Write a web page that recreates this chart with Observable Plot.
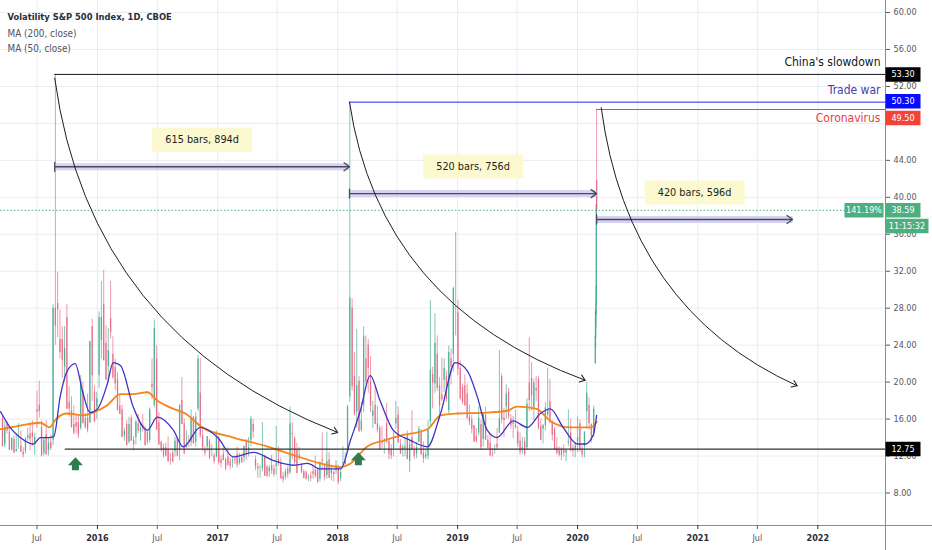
<!DOCTYPE html>
<html><head><meta charset="utf-8">
<script src="https://cdn.jsdelivr.net/npm/d3@7"></script>
<script src="https://cdn.jsdelivr.net/npm/@observablehq/plot@0.6"></script>
<style>
html,body{margin:0;padding:0;background:#fff;}
#chart{width:932px;height:550px;overflow:hidden;position:relative;}
</style></head><body><div id="chart"></div>
<script>
// ---------- DATA (weekly bars: Monday of week, open, high, low, close) ----------
const vix2015 = [
["2015-03-16",16.0,16.3,13.0,13.0],["2015-03-23",13.2,15.7,12.9,15.1],["2015-03-30",15.4,15.7,14.4,14.7],
["2015-04-06",14.6,15.0,12.6,12.6],["2015-04-13",12.7,14.0,12.5,13.9],["2015-04-20",13.8,14.2,12.3,12.3],
["2015-04-27",12.5,14.4,12.4,12.7],["2015-05-04",12.9,15.5,12.7,12.9],["2015-05-11",13.1,14.7,12.4,12.4],
["2015-05-18",12.4,12.9,11.8,12.1],["2015-05-25",12.5,14.0,12.2,13.8],["2015-06-01",13.9,15.0,13.6,14.2],
["2015-06-08",14.4,15.4,12.6,13.8],["2015-06-15",14.5,15.8,13.0,14.0],["2015-06-22",13.4,14.4,12.1,14.0],
["2015-06-29",17.0,19.0,15.0,16.8],["2015-07-06",17.5,20.1,16.1,16.8],["2015-07-13",15.1,15.8,11.9,12.0],
["2015-07-20",12.3,13.9,12.0,13.7],["2015-07-27",14.3,15.8,12.1,12.1],["2015-08-03",12.6,14.0,12.0,13.4],
["2015-08-10",13.5,14.3,12.6,12.8],["2015-08-17",13.7,28.4,13.1,28.0],["2015-08-24",28.0,53.3,24.0,26.1],
["2015-08-31",28.5,31.9,24.8,27.8],["2015-09-07",24.6,27.8,22.5,23.2],["2015-09-14",24.6,26.0,20.4,22.3],
["2015-09-21",21.6,26.0,20.0,23.6],["2015-09-28",27.0,28.4,17.0,17.1],["2015-10-05",17.8,19.5,16.2,17.1],
["2015-10-12",16.9,18.4,15.0,15.1],["2015-10-19",15.4,17.4,14.3,14.5],["2015-10-26",15.6,16.5,14.4,15.1],
["2015-11-02",15.6,16.3,13.9,14.3],["2015-11-09",15.0,20.7,14.8,20.1],["2015-11-16",19.0,20.0,15.5,15.5],
["2015-11-23",16.0,16.6,14.9,15.1],["2015-11-30",16.1,18.7,14.5,14.8],["2015-12-07",15.6,24.4,15.5,24.4],
["2015-12-14",26.0,26.8,17.9,20.7],["2015-12-21",18.9,19.6,15.6,15.7],["2015-12-28",17.3,18.9,16.0,18.2]
];
const vix2016 = [
["2016-01-04",20.7,27.6,19.3,27.0],["2016-01-11",24.5,30.9,22.5,27.0],["2016-01-18",28.4,32.1,22.3,22.3],
["2016-01-25",24.2,26.1,20.2,20.2],["2016-02-01",21.7,25.8,19.9,23.4],["2016-02-08",26.9,30.9,24.7,25.4],
["2016-02-15",23.0,24.9,20.3,20.5],["2016-02-22",21.6,22.5,19.1,19.8],["2016-02-29",20.3,21.0,16.9,16.9],
["2016-03-07",17.4,18.7,16.5,16.5],["2016-03-14",17.0,17.5,14.0,14.0],["2016-03-21",14.2,15.0,13.6,14.7],
["2016-03-28",15.4,15.8,13.1,13.1],["2016-04-04",13.5,16.2,13.3,15.4],["2016-04-11",16.1,16.4,13.6,13.6],
["2016-04-18",13.7,14.1,12.5,13.2],["2016-04-25",14.0,15.8,13.2,15.7],["2016-05-02",15.5,16.5,14.4,14.7],
["2016-05-09",14.6,15.4,13.6,15.0],["2016-05-16",15.3,16.5,14.6,15.2],["2016-05-23",14.8,15.2,13.1,13.1],
["2016-05-30",14.6,14.7,13.2,13.5],["2016-06-06",13.7,17.2,13.4,17.0],["2016-06-13",19.8,22.5,18.1,19.4],
["2016-06-20",17.5,26.7,17.2,25.8],["2016-06-27",22.5,23.9,14.8,14.8],["2016-07-04",15.6,16.7,13.2,13.2],
["2016-07-11",13.5,13.6,12.4,12.7],["2016-07-18",12.9,13.3,11.8,12.0],["2016-07-25",12.9,13.4,11.9,12.0],
["2016-08-01",12.6,14.1,11.3,11.4],["2016-08-08",11.6,12.3,11.0,11.5],["2016-08-15",12.3,12.6,11.3,11.3],
["2016-08-22",12.5,14.0,11.9,13.6],["2016-08-29",13.8,13.9,11.9,12.0],["2016-09-05",12.6,17.5,11.5,17.5],
["2016-09-12",18.0,20.5,15.4,15.4],["2016-09-19",15.5,16.0,12.1,12.3],["2016-09-26",13.0,14.7,12.8,13.3],
["2016-10-03",13.6,14.2,12.9,13.5],["2016-10-10",13.5,17.0,13.0,16.1],["2016-10-17",16.2,16.3,13.3,13.3],
["2016-10-24",13.5,16.7,13.0,16.2],["2016-10-31",17.1,22.9,16.8,22.5],["2016-11-07",18.8,22.5,13.9,14.2],
["2016-11-14",14.2,14.9,12.5,12.9],["2016-11-21",12.6,13.0,12.0,12.3],["2016-11-28",13.0,14.1,12.5,14.1],
["2016-12-05",13.6,13.8,11.6,11.8],["2016-12-12",12.2,13.2,11.9,12.2],["2016-12-19",12.0,12.3,11.1,11.4],
["2016-12-26",11.9,14.7,11.8,14.0]
];
const vix2017 = [
["2017-01-02",13.8,14.1,11.0,11.3],["2017-01-09",11.6,12.0,10.7,11.2],["2017-01-16",12.2,13.0,11.5,11.5],
["2017-01-23",11.6,11.8,10.4,10.6],["2017-01-30",11.9,12.9,10.9,11.0],["2017-02-06",11.4,11.8,10.5,10.9],
["2017-02-13",11.4,11.8,10.7,11.5],["2017-02-20",11.6,12.0,11.1,11.5],["2017-02-27",12.2,13.0,10.7,11.0],
["2017-03-06",11.2,12.3,11.0,11.7],["2017-03-13",11.8,12.2,11.2,11.3],["2017-03-20",11.8,13.1,11.3,13.0],
["2017-03-27",13.5,13.8,11.5,12.4],["2017-04-03",12.4,14.0,11.9,12.9],["2017-04-10",13.7,16.3,13.0,16.0],
["2017-04-17",15.4,15.9,13.9,14.6],["2017-04-24",11.6,12.0,10.4,10.8],["2017-05-01",10.8,11.2,9.6,10.6],
["2017-05-08",10.4,11.0,9.6,10.4],["2017-05-15",10.6,15.6,10.3,12.0],["2017-05-22",12.0,12.1,9.8,9.8],
["2017-05-29",10.8,11.0,9.7,9.8],["2017-06-05",10.3,11.0,9.7,10.7],["2017-06-12",11.0,12.1,10.0,10.4],
["2017-06-19",10.6,11.0,9.7,10.0],["2017-06-26",10.9,15.2,9.9,11.2],["2017-07-03",11.6,13.0,10.9,11.2],
["2017-07-10",11.2,11.8,9.5,9.5],["2017-07-17",9.8,10.2,9.1,9.4],["2017-07-24",9.7,10.6,9.4,10.3],
["2017-07-31",10.6,10.9,9.6,10.0],["2017-08-07",10.2,17.3,10.0,15.5],["2017-08-14",14.4,15.6,11.6,14.3],
["2017-08-21",13.9,14.1,11.0,11.3],["2017-08-28",12.6,13.4,10.1,10.1],["2017-09-04",12.0,12.9,11.5,12.1],
["2017-09-11",11.0,11.2,10.1,10.2],["2017-09-18",10.3,10.5,9.5,9.6],["2017-09-25",10.2,10.4,9.4,9.5],
["2017-10-02",9.6,10.0,9.2,9.65],["2017-10-09",9.8,10.3,9.2,9.6],["2017-10-16",10.3,11.0,9.5,10.0],
["2017-10-23",10.5,12.0,9.6,9.8],["2017-10-30",10.5,10.6,9.1,9.1],["2017-11-06",9.5,11.4,9.2,11.3],
["2017-11-13",11.6,14.5,10.4,11.4],["2017-11-20",10.9,11.1,9.3,9.7],["2017-11-27",9.9,14.6,9.5,11.4],
["2017-12-04",11.6,12.4,9.6,9.6],["2017-12-11",10.1,11.0,9.3,10.5],["2017-12-18",10.2,10.4,9.2,10.0],
["2017-12-25",10.4,11.5,10.0,11.0]
];
const vix2018 = [
["2018-01-01",10.9,11.0,8.9,9.2],["2018-01-08",9.6,10.5,9.2,10.2],["2018-01-15",11.2,13.0,10.9,11.3],
["2018-01-22",11.5,12.3,10.9,11.1],["2018-01-29",12.5,17.5,12.3,17.3],["2018-02-05",18.4,50.3,17.8,29.1],
["2018-02-12",28.0,29.0,19.0,19.5],["2018-02-19",20.6,23.2,16.3,16.5],["2018-02-26",16.8,25.7,15.0,19.6],
["2018-03-05",20.1,20.6,14.6,14.6],["2018-03-12",14.8,17.8,14.6,15.8],["2018-03-19",17.5,26.0,16.7,24.9],
["2018-03-26",22.5,25.0,19.7,20.0],["2018-04-02",24.0,24.6,18.8,21.5],["2018-04-09",20.1,22.8,16.7,17.4],
["2018-04-16",16.3,17.9,15.0,16.9],["2018-04-23",17.5,19.5,15.4,15.4],["2018-04-30",15.5,17.4,14.5,14.8],
["2018-05-07",15.0,15.3,12.6,12.65],["2018-05-14",13.5,15.2,12.8,13.4],["2018-05-21",13.2,13.9,12.2,13.2],
["2018-05-28",15.5,17.7,13.3,13.5],["2018-06-04",13.6,13.8,11.6,12.2],["2018-06-11",12.7,13.2,11.6,12.0],
["2018-06-18",12.8,14.6,11.9,13.8],["2018-06-25",15.5,17.9,14.9,16.1],["2018-07-02",16.4,17.3,13.4,13.4],
["2018-07-09",13.2,13.8,12.2,12.2],["2018-07-16",12.7,13.2,11.9,12.9],["2018-07-23",12.8,14.0,11.9,13.0],
["2018-07-30",14.3,14.7,11.6,11.6],["2018-08-06",11.4,13.6,10.2,13.2],["2018-08-13",14.0,16.9,12.6,12.6],
["2018-08-20",12.6,13.0,11.6,12.0],["2018-08-27",12.2,13.5,11.7,12.9],["2018-09-03",13.5,15.2,13.4,14.9],
["2018-09-10",14.5,14.9,12.1,12.1],["2018-09-17",12.3,13.5,11.2,11.7],["2018-09-24",11.9,12.7,11.6,12.1],
["2018-10-01",12.0,15.8,11.6,14.8],["2018-10-08",15.7,28.8,15.1,21.3],["2018-10-15",20.8,21.6,17.1,19.9],
["2018-10-22",19.8,27.4,18.8,24.2],["2018-10-29",23.0,25.0,19.0,19.3],["2018-11-05",19.6,20.5,15.9,17.4],
["2018-11-12",18.6,22.6,17.9,18.1],["2018-11-19",20.2,22.5,18.9,21.5],["2018-11-26",20.6,21.2,17.8,18.1],
["2018-12-03",16.9,23.9,16.6,23.2],["2018-12-10",22.5,23.6,19.7,21.6],["2018-12-17",23.0,30.3,21.1,30.1],
["2018-12-24",28.3,36.2,25.0,28.3],["2018-12-31",27.5,28.8,20.7,21.4]
];
const vix2019 = [
["2019-01-07",21.5,22.3,18.0,18.2],["2019-01-14",19.4,19.8,17.5,17.8],["2019-01-21",19.6,20.8,17.4,17.4],
["2019-01-28",18.7,19.8,15.9,16.1],["2019-02-04",16.2,17.5,15.3,15.7],["2019-02-11",15.9,16.4,14.4,14.9],
["2019-02-18",15.3,15.3,13.5,13.5],["2019-02-25",14.1,15.0,13.4,13.6],["2019-03-04",14.5,17.3,14.2,16.1],
["2019-03-11",15.4,15.9,12.6,12.9],["2019-03-18",13.8,16.6,13.0,16.5],["2019-03-25",16.4,17.3,13.7,13.7],
["2019-04-01",13.7,14.2,12.8,12.8],["2019-04-08",13.4,14.3,12.0,12.0],["2019-04-15",12.2,12.8,11.9,12.1],
["2019-04-22",12.7,13.2,12.2,12.7],["2019-04-29",13.3,15.0,12.6,12.9],["2019-05-06",14.5,23.4,14.4,16.0],
["2019-05-13",20.6,20.9,15.5,15.96],["2019-05-20",16.1,17.2,14.0,15.85],["2019-05-27",17.3,19.7,16.0,18.7],
["2019-06-03",18.9,19.3,16.0,16.3],["2019-06-10",16.0,16.5,14.9,15.3],["2019-06-17",15.6,16.3,13.9,15.4],
["2019-06-24",15.3,17.0,14.9,15.1],["2019-07-01",14.6,15.2,12.9,13.3],["2019-07-08",13.6,14.5,12.1,12.4],
["2019-07-15",12.7,14.0,12.2,12.9],["2019-07-22",13.5,14.0,12.0,12.2],["2019-07-29",12.9,18.2,12.6,17.6],
["2019-08-05",19.9,24.8,16.8,18.0],["2019-08-12",20.4,22.1,16.9,18.5],["2019-08-19",17.2,20.3,15.8,19.9],
["2019-08-26",19.3,20.6,17.9,19.0],["2019-09-02",20.3,20.6,14.8,15.0],["2019-09-09",15.2,16.0,13.7,13.7],
["2019-09-16",14.9,15.4,13.3,15.3],["2019-09-23",15.3,17.8,14.7,17.2],["2019-09-30",16.4,21.5,16.2,17.0],
["2019-10-07",17.9,20.3,15.5,15.6],["2019-10-14",15.6,15.8,13.6,14.25],["2019-10-21",14.9,15.1,12.6,12.65],
["2019-10-28",12.9,14.0,12.1,12.3],["2019-11-04",12.6,13.0,11.9,12.1],["2019-11-11",12.7,12.9,11.5,12.05],
["2019-11-18",12.6,13.2,11.9,12.3],["2019-11-25",12.3,12.6,11.4,12.6],["2019-12-02",13.4,17.0,13.0,13.6],
["2019-12-09",14.5,16.0,12.4,12.6],["2019-12-16",12.8,13.2,11.9,12.5],["2019-12-23",12.6,13.0,11.8,13.4]
];
const vix2020 = [
["2019-12-30",13.5,16.2,12.4,14.0],["2020-01-06",15.5,15.9,12.4,12.6],["2020-01-13",12.7,13.1,11.8,12.1],
["2020-01-20",13.0,14.6,11.8,14.6],["2020-01-27",16.8,19.99,14.9,18.8],["2020-02-03",17.5,18.3,14.8,15.5],
["2020-02-10",15.4,15.5,13.4,13.7],["2020-02-17",14.4,17.4,14.0,17.1]
];
// last week shown day by day (date, open, high, low, close)
const vixLastWeekDaily = [
["2020-02-24",22.0,27.6,21.9,25.0],["2020-02-25",24.8,28.5,23.7,27.9],["2020-02-26",27.5,30.4,25.9,27.6],
["2020-02-27",28.3,39.2,27.2,39.2],["2020-02-28",41.8,49.5,38.2,38.59]
];
// moving averages (date, value)
const ma200 = [
["2015-03-12",14.9],["2015-05-11",15.3],["2015-07-11",15.6],["2015-08-08",15.1],["2015-08-28",16.0],
["2015-10-01",16.6],["2015-11-19",16.4],["2015-12-18",16.7],["2016-01-31",17.5],["2016-03-11",18.7],
["2016-04-19",18.7],["2016-06-01",18.9],["2016-07-01",18.0],["2016-08-19",17.1],["2016-09-24",16.6],
["2016-11-15",15.1],["2017-02-18",14.0],["2017-06-04",13.0],["2017-08-19",12.1],["2017-11-10",11.2],
["2018-01-10",10.8],["2018-02-09",11.2],["2018-03-31",13.0],["2018-05-24",13.7],["2018-07-11",14.2],
["2018-10-01",14.9],["2018-11-10",16.4],["2018-12-31",16.6],["2019-03-31",16.7],["2019-05-31",16.9],
["2019-07-01",17.35],["2019-08-29",17.1],["2019-10-10",15.8],["2019-12-10",15.1],["2020-02-12",15.1],
["2020-02-28",15.7]
];
const ma50 = [
["2015-03-12",16.8],["2015-04-10",15.1],["2015-05-11",14.0],["2015-06-20",13.3],["2015-07-11",14.0],
["2015-08-05",14.0],["2015-08-21",14.1],["2015-09-10",18.5],["2015-10-01",21.2],["2015-10-25",22.0],
["2015-11-18",18.8],["2015-12-09",16.7],["2016-01-01",17.1],["2016-01-31",19.8],["2016-02-18",22.1],
["2016-03-11",21.8],["2016-04-19",17.3],["2016-06-01",14.8],["2016-07-01",16.2],["2016-08-19",14.8],
["2016-09-18",13.0],["2016-11-09",15.1],["2017-01-01",14.0],["2017-02-18",11.9],["2017-04-20",12.4],
["2017-06-20",11.5],["2017-08-19",11.0],["2017-10-01",11.2],["2017-11-10",10.6],["2018-01-10",10.6],
["2018-02-09",13.7],["2018-03-11",16.9],["2018-04-10",20.7],["2018-05-10",18.0],["2018-06-19",14.8],
["2018-08-10",13.7],["2018-10-01",13.0],["2018-11-10",16.6],["2018-12-25",22.1],["2019-01-31",21.2],
["2019-03-02",18.4],["2019-04-01",14.8],["2019-05-01",14.0],["2019-06-19",15.8],["2019-08-01",15.1],
["2019-09-10",16.6],["2019-10-10",17.1],["2019-11-18",15.1],["2020-01-01",13.3],["2020-01-25",13.3],
["2020-02-18",14.3],["2020-02-28",16.4]
];
// horizontal levels
const levelNames  = ["China's slowdown", "Trade war", "Coronavirus"];
const levelValues = [53.30, 50.30, 49.50];
const levelStarts = ["2015-08-24", "2018-02-06", "2020-02-28"];
const supportValue = 12.75, supportStart = "2015-09-25";
const lastPrice = 38.59, lastChange = "141.19%", barCountdown = "11:15:32";
// date-range measurements
const measureLabels = ["615 bars, 894d", "520 bars, 756d", "420 bars, 596d"];
const measureStarts = ["2015-08-24", "2018-02-06", "2020-02-28"];
const measureEnds   = ["2018-02-06", "2020-02-28", "2021-10-16"];
const measureValues = [43.3, 40.4, 37.6];
// curved arrows: start, control, end
const curves = [
  [["2015-08-24",52.9],["2015-12-09",25.0],["2018-01-01",14.55]],
  [["2018-02-06",50.3],["2018-05-08",28.4],["2020-01-24",20.2]],
  [["2020-03-13",49.7],["2020-06-02",27.9],["2021-10-30",19.6]]
];
// up arrows
const upArrows = [["2015-10-26",11.15],["2018-03-05",11.7]];
// axis ticks (the 48.00 label sits under the Coronavirus price box in the reference)
const yTicks = [8,12,16,20,24,28,32,36,40,44,48,52,56,60];
const yTickLabelsShown = [8,12,16,20,24,28,32,36,40,44,52,56,60];
const yearTicks = ["2016-01-01","2017-01-01","2018-01-01","2019-01-01","2020-01-01","2021-01-01","2022-01-01"];
const julTicks = ["2015-07-01","2016-07-01","2017-07-01","2018-07-01","2019-07-01","2020-07-01","2021-07-01"];
const xDomain = ["2015-03-12","2022-07-26"];
const yDomain = [4.48, 61.3];
const titleText = "Volatility S&P 500 Index, 1D, CBOE";
const legendText = ["MA (200, close)", "MA (50, close)"];

// ---------- BUILD ----------
const P = d3.utcParse("%Y-%m-%d");
const toBar = (offset) => ([d,o,h,l,c]) => ({date: d3.utcDay.offset(P(d), offset), open:o, high:h, low:l, close:c});
const bars = [...vix2015, ...vix2016, ...vix2017, ...vix2018, ...vix2019, ...vix2020].map(toBar(2))
  .concat(vixLastWeekDaily.map(toBar(0)));
const ma200Data = ma200.map(([d,v]) => ({date: P(d), value: v}));
const ma50Data = ma50.map(([d,v]) => ({date: P(d), value: v}));
const xEnd = P(xDomain[1]);
const levels = levelNames.map((name,i) => ({name, value: levelValues[i], start: P(levelStarts[i])}));
const measures = measureLabels.map((label,i) => {
  const a = P(measureStarts[i]), b = P(measureEnds[i]);
  return {label, start: a, end: b, mid: new Date((+a + +b)/2), value: measureValues[i]};
});
const curvePts = curves.flatMap((pts, id) => pts.map(([d,v]) => ({id, date: P(d), value: v})));
const arrowPts = upArrows.map(([d,v]) => ({date: P(d), value: v}));

const FONT = "'DejaVu Sans Condensed','DejaVu Sans',sans-serif";
const UP = "#3aa98a", DOWN = "#e5607a";
const GREEN = "#4caf80";
const levelColors = ["#131722", "#2626ff", "#f0413a"];
const levelTextColors = ["#131722", "#4b3aa8", "#e8403a"];
const levelTextDy = [-12, -12, 9];
const levelBoxColors = ["#000000", "#0a0aff", "#f44336"];

// custom quadratic bezier curve (start, control, end)
function quadCurve(context) {
  let pts = [];
  return {
    areaStart() {}, areaEnd() {},
    lineStart() { pts = []; },
    point(x, y) { pts.push([+x, +y]); },
    lineEnd() {
      if (pts.length === 3) {
        context.moveTo(pts[0][0], pts[0][1]);
        context.quadraticCurveTo(pts[1][0], pts[1][1], pts[2][0], pts[2][1]);
      } else if (pts.length) {
        context.moveTo(pts[0][0], pts[0][1]);
        for (let i = 1; i < pts.length; i++) context.lineTo(pts[i][0], pts[i][1]);
      }
    }
  };
}
const NS = "http://www.w3.org/2000/svg";
function makeMarker(d, color, sw) {
  const m = document.createElementNS(NS, "marker");
  m.setAttribute("viewBox", "-10 -10 20 20");
  m.setAttribute("markerWidth", 20); m.setAttribute("markerHeight", 20);
  m.setAttribute("markerUnits", "userSpaceOnUse");
  m.setAttribute("orient", "auto");
  m.setAttribute("overflow", "visible");
  const p = document.createElementNS(NS, "path");
  p.setAttribute("d", d); p.setAttribute("fill", "none");
  p.setAttribute("stroke", color); p.setAttribute("stroke-width", sw);
  p.setAttribute("stroke-linecap", "round"); p.setAttribute("stroke-linejoin", "round");
  m.appendChild(p);
  return m;
}
const chevron = (color) => makeMarker("M-5,-3.6L0,0L-5,3.6", color, 1);
const chevronBig = (color) => makeMarker("M-5.5,-4L0,0L-5.5,4", color, 1.3);
const vtick = (color) => makeMarker("M0,-4.5L0,4.5", color, 1.3);
const rectSymbol = (w, h) => ({draw(ctx) { ctx.rect(-w/2, -h/2, w, h); }});
const upArrowSymbol = {draw(ctx) {
  ctx.moveTo(0,-6.5); ctx.lineTo(7.5,1.5); ctx.lineTo(3.5,1.5); ctx.lineTo(3.5,6.5);
  ctx.lineTo(-3.5,6.5); ctx.lineTo(-3.5,1.5); ctx.lineTo(-7.5,1.5); ctx.closePath();
}};
const candleColor = d => d.close >= d.open ? UP : DOWN;
const axisBoxes = [
  {value: levelValues[0], fill: levelBoxColors[0], shift: 0},
  {value: levelValues[1], fill: levelBoxColors[1], shift: -1},
  {value: levelValues[2], fill: levelBoxColors[2], shift: 8.5},
  {value: supportValue, fill: "#000000", shift: 0},
  {value: lastPrice, fill: GREEN, shift: 0}
];
const fmt = d3.format(".2f");
const boxMarks = axisBoxes.flatMap(b => [
  Plot.dot([b], {x: () => xEnd, y: "value", dx: 17.5, dy: b.shift, r: 1, symbol: rectSymbol(35, 14.5), fill: b.fill, stroke: "none"}),
  Plot.text([b], {x: () => xEnd, y: "value", dx: 17.5, dy: b.shift, text: d => fmt(d.value), fill: "#fff", fontSize: 9, fontFamily: FONT})
]);

const chart = Plot.plot({
  width: 932, height: 550,
  marginLeft: 0, marginRight: 47, marginTop: 0, marginBottom: 25,
  style: {fontFamily: FONT, fontSize: "9px", background: "#fff", overflow: "visible"},
  x: {type: "utc", domain: xDomain.map(P), label: null},
  y: {domain: yDomain, label: null},
  marks: [
    Plot.gridX({ticks: [...julTicks, ...yearTicks].map(P), stroke: "#e8ecf3", strokeOpacity: 1}),
    Plot.gridY({ticks: yTicks, stroke: "#e8ecf3", strokeOpacity: 1}),
    // candles
    Plot.ruleX(bars, {x: "date", y1: "low", y2: "high", stroke: candleColor, strokeWidth: 0.8, strokeOpacity: 0.8}),
    Plot.ruleX(bars, {x: "date", y1: "open", y2: "close", stroke: candleColor, strokeWidth: 1.3, strokeOpacity: 0.8}),
    // moving averages
    Plot.line(ma200Data, {x: "date", y: "value", stroke: "#f5851a", strokeWidth: 1.8, curve: "monotone-x"}),
    Plot.line(ma50Data, {x: "date", y: "value", stroke: "#3d33c4", strokeWidth: 1.3, curve: "monotone-x"}),
    // last price line
    Plot.ruleY([lastPrice], {stroke: GREEN, strokeWidth: 1, strokeDasharray: "1.5,2"}),
    // level lines
    ...levels.map((l, i) => Plot.ruleY([l], {y: "value", x1: "start", x2: () => xEnd, stroke: levelColors[i], strokeWidth: 1})),
    Plot.ruleY([supportValue], {x1: () => P(supportStart), x2: () => xEnd, stroke: "#333", strokeWidth: 1.2}),
    // measurements
    Plot.link(measures, {x1: "start", x2: "end", y1: "value", y2: "value", stroke: "#cfcaf0", strokeWidth: 7, strokeOpacity: 0.85}),
    Plot.link(measures, {x1: "start", x2: "end", y1: "value", y2: "value", stroke: "#4a4a5e", strokeWidth: 1.4, markerStart: vtick, markerEnd: chevronBig}),
    Plot.dot(measures, {x: "mid", y: "value", dy: -27, r: 1, symbol: rectSymbol(100, 24), fill: "#fcf8cc", fillOpacity: 0.95, stroke: "none"}),
    Plot.text(measures, {x: "mid", y: "value", dy: -27, text: "label", fill: "#1e1e1e", fontSize: 10.8, fontFamily: FONT}),
    // curved arrows
    Plot.line(curvePts, {x: "date", y: "value", z: "id", curve: quadCurve, stroke: "#1e1e1e", strokeWidth: 1, markerEnd: chevron}),
    // up arrows
    Plot.dot(arrowPts, {x: "date", y: "value", r: 8, symbol: upArrowSymbol, fill: "#2e7d52", stroke: "none"}),
    // axis lines
    Plot.ruleX([xEnd], {stroke: "#8a8d96", strokeWidth: 1, insetBottom: -25}),
    Plot.ruleY([yDomain[0]], {stroke: "#8a8d96", strokeWidth: 1, insetRight: -47}),
    Plot.axisY({anchor: "right", ticks: yTickLabelsShown, tickFormat: fmt, tickSize: 4, tickPadding: 4, color: "#55585f", fontSize: 9, label: null}),
    Plot.axisX({ticks: yearTicks.map(P), tickFormat: d3.utcFormat("%Y"), tickSize: 4, tickPadding: 5, color: "#2a2e39", fontWeight: "bold", fontSize: 9, label: null}),
    Plot.axisX({ticks: julTicks.map(P), tickFormat: () => "Jul", tickSize: 4, tickPadding: 5, color: "#55585f", fontSize: 9, label: null}),
    // price-axis label boxes
    ...boxMarks,
    Plot.dot([lastPrice], {x: () => xEnd, y: d => d, dx: -21.5, r: 1, symbol: rectSymbol(39, 14.5), fill: GREEN, stroke: "none"}),
    Plot.text([lastPrice], {x: () => xEnd, y: d => d, dx: -21.5, text: () => lastChange, fill: "#fff", fontSize: 9, fontFamily: FONT}),
    Plot.dot([lastPrice], {x: () => xEnd, y: d => d, dx: 21.5, dy: 15.7, r: 1, symbol: rectSymbol(43, 14.5), fill: GREEN, stroke: "none"}),
    Plot.text([lastPrice], {x: () => xEnd, y: d => d, dx: 21.5, dy: 15.7, text: () => barCountdown, fill: "#fff", fontSize: 9, fontFamily: FONT}),
    // level texts
    ...levels.map((l, i) => Plot.text([l], {x: () => xEnd, y: "value", dx: -5, dy: levelTextDy[i], text: "name", textAnchor: "end", fill: levelTextColors[i], fontSize: 12, fontFamily: FONT})),
    // legend
    Plot.text([titleText], {frameAnchor: "top-left", dx: 7, dy: 12.5, text: d => d, lineAnchor: "top", textAnchor: "start", fill: "#2a2e39", fontWeight: "bold", fontSize: 9.3, fontFamily: FONT}),
    Plot.text([legendText[0]], {frameAnchor: "top-left", dx: 7, dy: 29, text: d => d, lineAnchor: "top", textAnchor: "start", fill: "#50535e", fontSize: 9.9, fontFamily: FONT}),
    Plot.text([legendText[1]], {frameAnchor: "top-left", dx: 7, dy: 44.8, text: d => d, lineAnchor: "top", textAnchor: "start", fill: "#50535e", fontSize: 9.9, fontFamily: FONT})
  ]
});
document.getElementById("chart").appendChild(chart);
</script></body></html>
